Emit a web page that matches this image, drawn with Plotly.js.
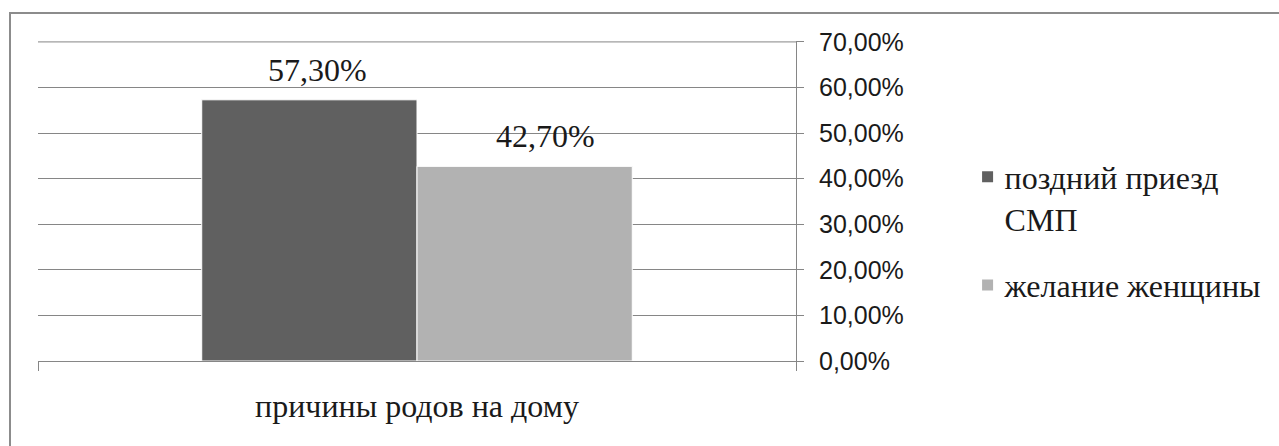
<!DOCTYPE html>
<html>
<head>
<meta charset="utf-8">
<script src="https://cdn.plot.ly/plotly-3.0.1.min.js"></script>
<style>
html,body{margin:0;padding:0;background:#fff;}
#wrap{position:relative;width:1279px;height:446px;overflow:hidden;}
#chart{position:absolute;left:0;top:0;width:1279px;height:446px;}
#frame{position:absolute;left:9px;top:12px;width:1300px;height:500px;border-left:2px solid #8c8c8c;border-top:2px solid #8c8c8c;pointer-events:none;}
</style>
</head>
<body>
<div id="wrap"><div id="chart"></div><div id="frame"></div></div>
<script>
const categories = ["причины родов на дому"];
const seriesNames = ["поздний приезд<br>СМП", "желание женщины"];
const lateArrival = [0.573];
const womanWish = [0.427];
const seriesColors = ["#606060", "#b2b2b2"];
const yTicks = [0, 0.1, 0.2, 0.3, 0.4, 0.5, 0.6, 0.7];

const serif = "Liberation Serif";
const sans = "Liberation Sans";

const mk = (name, vals, color, grp) => ({
  type: 'bar', name: name, x: categories, y: vals, legendgroup: grp,
  marker: {color: color, line: {color: '#ffffff', width: 1}},
  hoverinfo: 'none'
});

const data = [
  mk(seriesNames[0], lateArrival, seriesColors[0], 'a'),
  mk(seriesNames[1], womanWish, seriesColors[1], 'b')
];

const fmt = v => (v * 100).toFixed(2).replace('.', ',') + '%';
const annotations = [];
[[lateArrival, -100], [womanWish, 128]].forEach(([vals, xs]) => {
  vals.forEach((v, i) => annotations.push({
    x: categories[i], y: v, xref: 'x', yref: 'y', text: fmt(v), showarrow: false,
    xshift: xs, yshift: 10, yanchor: 'bottom',
    font: {family: serif, size: 32, color: '#1a1a1a'}
  }));
});

const layout = {
  width: 1279, height: 446,
  margin: {l: 38, r: 481, t: 41, b: 85},
  paper_bgcolor: 'rgba(0,0,0,0)', plot_bgcolor: '#fff',
  separators: ', ',
  barmode: 'group', bargap: 0.432, bargroupgap: 0,
  showlegend: true,
  annotations: annotations,
  shapes: [{type: 'line', xref: 'paper', yref: 'y', x0: 0, x1: 1,
    y0: yTicks[yTicks.length - 1], y1: yTicks[yTicks.length - 1],
    line: {color: '#868686', width: 1}, layer: 'below'}],
  legend: {x: 1.2224, xanchor: 'left', y: 0.661, yanchor: 'top', valign: 'top',
    font: {family: serif, size: 32, color: '#1a1a1a'},
    itemwidth: 30, tracegroupgap: 22, bgcolor: 'rgba(0,0,0,0)'},
  xaxis: {type: 'category', showgrid: false, showline: true, linecolor: '#868686', linewidth: 1,
    ticks: 'outside', tickson: 'boundaries', ticklen: 9, tickcolor: '#868686',
    tickfont: {family: serif, size: 32, color: '#1a1a1a'}, ticklabelstandoff: 17, fixedrange: true},
  yaxis: {side: 'right', range: [0, 0.702], tickvals: yTicks, tickformat: '.2%',
    showgrid: true, gridcolor: '#868686', gridwidth: 1, zeroline: false,
    showline: true, linecolor: '#868686', linewidth: 1,
    ticks: 'outside', ticklen: 7, tickcolor: '#868686',
    tickfont: {family: sans, size: 25, color: '#1a1a1a'}, ticklabelstandoff: 10, fixedrange: true}
};

Plotly.newPlot('chart', data, layout, {displayModeBar: false, staticPlot: true}).then(() => {
  document.querySelectorAll('.legendpoints path').forEach(p => {
    p.setAttribute('d', 'M-2.5,-5.5h11v11h-11z');
    p.style.strokeWidth = '0';
  });
});
</script>
</body>
</html>
